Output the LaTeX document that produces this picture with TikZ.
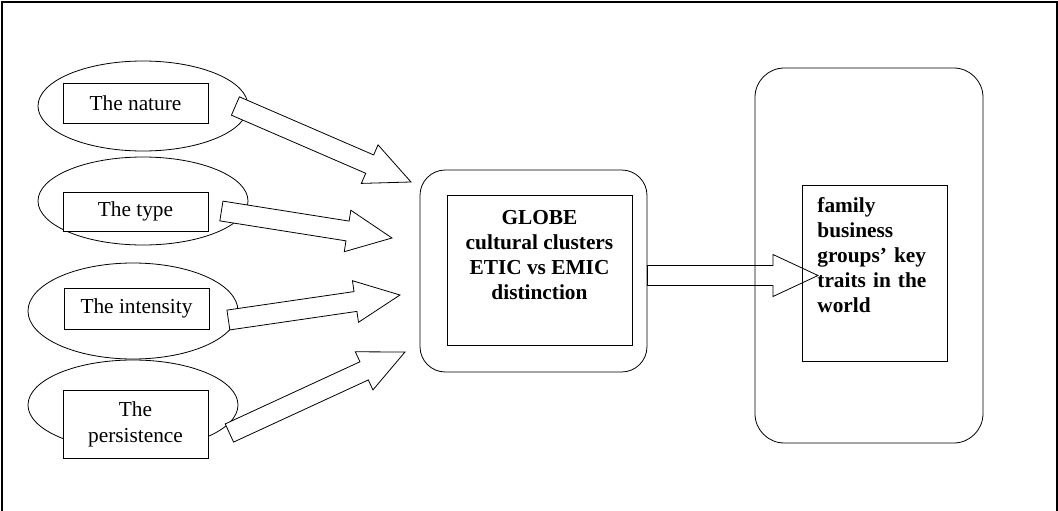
\documentclass[tikz,border=0pt]{standalone}
\usepackage{fontspec}
\setmainfont{Liberation Serif}
\usepackage{tikz}
\usetikzlibrary{shapes.geometric, calc, positioning}

% hollow block arrow from #2 to #3
\newcommand{\fatarrow}[3][]{%
    \path let \p1=($(#3)-(#2)$) in
        \pgfextra{\pgfmathsetmacro\arrlen{veclen(\x1,\y1)}%
                  \pgfmathsetmacro\arrang{atan2(\y1,\x1)}%
                  \global\let\arrlen\arrlen\global\let\arrang\arrang};
    \draw[blockarrow,#1,shift={(#2)},rotate=\arrang]
        (0pt,-7.5pt) -- ({\arrlen pt-33.75pt},-7.5pt) -- ({\arrlen pt-33.75pt},-15.75pt)
        -- (\arrlen pt,0pt)
        -- ({\arrlen pt-33.75pt},15.75pt) -- ({\arrlen pt-33.75pt},7.5pt) -- (0pt,7.5pt) -- cycle;
}

\begin{document}
\begin{tikzpicture}[x=0.75pt, y=-0.75pt, line width=0.6pt,
    factor/.style={ellipse, draw, minimum width=157.5pt, inner sep=0pt},
    factorbox/.style={rectangle, draw, fill=white, minimum width=108.75pt, inner sep=0pt,
        align=center, font=\fontsize{16}{19.5}\selectfont},
    cluster/.style={rectangle, draw, inner sep=0pt},
    blockarrow/.style={draw, fill=white, line join=miter}
]
\useasboundingbox (0,0) rectangle (1058,511);
\draw[line width=0.8pt] (2,511) -- (2,2) -- (1057,2) -- (1057,511);

% the four factors
\node[factor, minimum height=67.5pt] (ell-nature) at (143,106) {};
\node[factor, minimum height=66pt] (ell-type) at (143,201) {};
\node[factor, minimum height=72pt] (ell-intensity) at (133,311) {};
\node[factor, minimum height=67.5pt] (ell-persist) at (133,405) {};

\node[factorbox, minimum height=30pt] (nature) at (135.5,103) {The nature};
\node[factorbox, minimum height=29.25pt] (type) at (135.5,211.5) {The type};
\node[factorbox, minimum height=30.75pt] (intensity) at (136.5,308.5) {The intensity};
\node[factorbox, minimum height=51pt] (persist) at (135.5,424) {The\\persistence};

% tails and tips of the arrows
\coordinate (t-nature) at ($(ell-nature.east)+(-13,0)$);
\coordinate (t-type) at ($(ell-type.east)+(-27,10)$);
\coordinate (t-intensity) at ($(ell-intensity.east)+(-10,9)$);
\coordinate (t-persist) at ($(ell-persist.east)+(-9,28)$);
\coordinate (h-nature) at (411,182);
\coordinate (h-type) at (392,238);
\coordinate (h-intensity) at (400,295);
\coordinate (h-persist) at (405,352);

\fatarrow{t-nature}{h-nature}
\fatarrow{t-type}{h-type}
\fatarrow{t-intensity}{h-intensity}
\fatarrow{t-persist}{h-persist}

% GLOBE clusters
\node[cluster, rounded corners=19pt, minimum width=170.25pt, minimum height=151.5pt] (globe-frame) at (533.5,271) {};
\node[cluster, minimum width=138.75pt, minimum height=112.5pt] (globe) at (539.5,270) {};
\node[anchor=north, inner sep=0pt, align=center, font=\fontsize{16}{18.75}\selectfont\bfseries]
    (globe-text) at (539.5,210) {GLOBE\\cultural clusters\\ETIC vs EMIC\\distinction};

% key traits
\node[cluster, rounded corners=22pt, minimum width=171pt, minimum height=281.25pt] (traits-frame) at (869,255.5) {};
\node[cluster, minimum width=108.75pt, minimum height=132pt] (traits) at (874.5,273) {};
\node[anchor=north west, inner sep=0pt, text width=95pt, align=left, font=\fontsize{16}{18.75}\selectfont\bfseries]
    (traits-text) at (817,197) {family\\business\\groups’ key\\traits in the\\world};

\coordinate (t-globe) at ($(globe-frame.east)+(0,4.5)$);
\coordinate (h-traits) at (818,275.5);
\fatarrow[fill=none]{t-globe}{h-traits}
\end{tikzpicture}
\end{document}
